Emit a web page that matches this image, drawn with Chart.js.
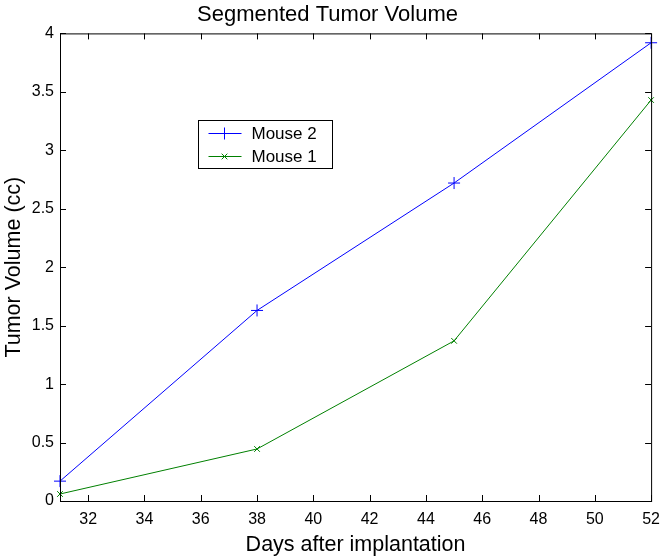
<!DOCTYPE html>
<html>
<head>
<meta charset="utf-8">
<script src="https://cdn.jsdelivr.net/npm/chart.js@4/dist/chart.umd.min.js"></script>
<style>
  html, body { margin: 0; padding: 0; background: #fff; }
  #wrap { width: 669px; height: 558px; }
</style>
</head>
<body>
<div id="wrap"><canvas id="tumorChart" width="669" height="558"></canvas></div>
<script>
const days = [31, 38, 45, 52];
const mouse2 = [0.17, 1.63, 2.72, 3.92];
const mouse1 = [0.06, 0.445, 1.37, 3.43];
const xTicks = [32, 34, 36, 38, 40, 42, 44, 46, 48, 50, 52];
const yTicks = [0, 0.5, 1, 1.5, 2, 2.5, 3, 3.5, 4];

const font = 'Liberation Sans, Arial, sans-serif';

// MATLAB-style box with inward ticks on all four sides
const boxTicks = {
  id: 'boxTicks',
  afterDraw(chart) {
    const { ctx, chartArea: a, scales } = chart;
    ctx.save();
    ctx.strokeStyle = '#000';
    ctx.lineWidth = 1;
    ctx.strokeRect(a.left + 0.5, a.top + 0.5, a.right - a.left, a.bottom - a.top);
    const len = 6;
    ctx.beginPath();
    xTicks.forEach(v => {
      const px = Math.round(scales.x.getPixelForValue(v)) + 0.5;
      ctx.moveTo(px, a.bottom); ctx.lineTo(px, a.bottom - len);
      ctx.moveTo(px, a.top); ctx.lineTo(px, a.top + len);
    });
    yTicks.forEach(v => {
      const py = Math.round(scales.y.getPixelForValue(v)) + 0.5;
      ctx.moveTo(a.left, py); ctx.lineTo(a.left + len, py);
      ctx.moveTo(a.right, py); ctx.lineTo(a.right - len, py);
    });
    ctx.stroke();
    ctx.restore();
  }
};

// legend box placed inside the axes like MATLAB's
const boxLegend = {
  id: 'boxLegend',
  afterDraw(chart) {
    const ctx = chart.ctx;
    const x0 = 198.5, y0 = 120.5, w = 134, h = 48;
    ctx.save();
    ctx.fillStyle = '#fff';
    ctx.fillRect(x0, y0, w, h);
    ctx.strokeStyle = '#000';
    ctx.lineWidth = 1;
    ctx.strokeRect(x0, y0, w, h);
    chart.data.datasets.forEach((ds, i) => {
      const cy = y0 + 13 + i * 23;
      ctx.strokeStyle = ds.borderColor;
      ctx.beginPath();
      ctx.moveTo(x0 + 10, cy); ctx.lineTo(x0 + 43, cy);
      ctx.stroke();
      Chart.helpers.drawPoint(ctx, {
        pointStyle: ds.pointStyle, radius: ds.pointRadius, borderWidth: 1
      }, x0 + 26, cy);
      ctx.fillStyle = '#000';
      ctx.font = '17px ' + font;
      ctx.textBaseline = 'middle';
      ctx.fillText(ds.label, x0 + 53, cy + 1);
    });
    ctx.restore();
  }
};

new Chart(document.getElementById('tumorChart'), {
  type: 'line',
  data: {
    datasets: [
      {
        label: 'Mouse 2',
        data: days.map((d, i) => ({ x: d, y: mouse2[i] })),
        borderColor: '#0000ff',
        backgroundColor: '#0000ff',
        borderWidth: 1,
        pointStyle: 'cross',
        pointRadius: 6,
        pointBorderWidth: 1,
        tension: 0,
        clip: false
      },
      {
        label: 'Mouse 1',
        data: days.map((d, i) => ({ x: d, y: mouse1[i] })),
        borderColor: '#008000',
        backgroundColor: '#008000',
        borderWidth: 1,
        pointStyle: 'crossRot',
        pointRadius: 4,
        pointBorderWidth: 1,
        tension: 0,
        clip: false
      }
    ]
  },
  options: {
    responsive: false,
    animation: false,
    layout: { padding: { left: 0, right: 14, top: 0, bottom: 0 } },
    scales: {
      x: {
        type: 'linear',
        min: 31,
        max: 52,
        afterBuildTicks: s => { s.ticks = xTicks.map(v => ({ value: v })); },
        afterFit: s => { s.height = 57; },
        grid: { display: false, drawTicks: false },
        border: { display: false },
        ticks: { color: '#000', padding: 9, font: { family: font, size: 16 } },
        title: { display: true, text: 'Days after implantation', color: '#000', padding: { top: 0, bottom: 0 }, font: { family: font, size: 21.5 } }
      },
      y: {
        min: 0,
        max: 4,
        afterBuildTicks: s => { s.ticks = yTicks.map(v => ({ value: v })); },
        afterFit: s => { s.width = 60; },
        grid: { display: false, drawTicks: false },
        border: { display: false },
        ticks: { color: '#000', padding: 6, font: { family: font, size: 16 }, callback: v => String(v) },
        title: { display: true, text: 'Tumor Volume (cc)', color: '#000', padding: { top: 1, bottom: 0 }, font: { family: font, size: 21.5 } }
      }
    },
    plugins: {
      legend: { display: false },
      tooltip: { enabled: false },
      title: {
        display: true,
        text: 'Segmented Tumor Volume',
        color: '#000',
        padding: { top: 2, bottom: 5 },
        font: { family: font, size: 22, weight: 'normal' }
      }
    }
  },
  plugins: [boxTicks, boxLegend]
});
</script>
</body>
</html>
